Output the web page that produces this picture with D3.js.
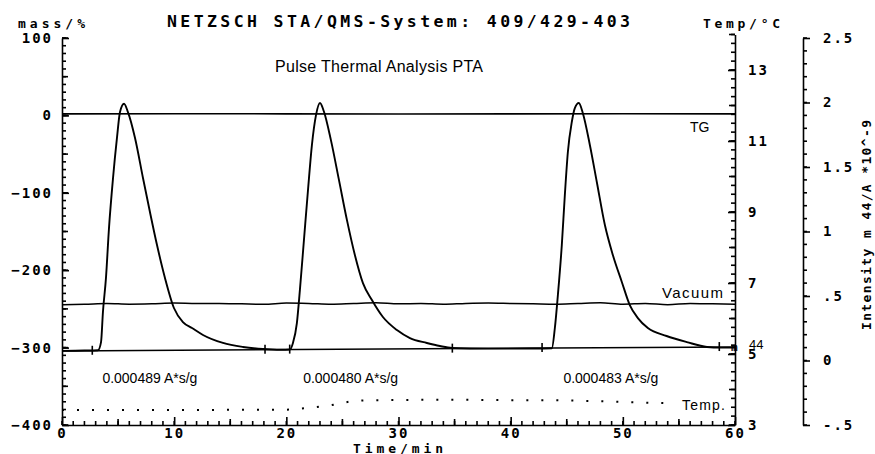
<!DOCTYPE html>
<html>
<head>
<meta charset="utf-8">
<script src="https://cdn.jsdelivr.net/npm/d3@7"></script>
<style>
  body { margin: 0; background: #fff; }
  svg { display: block; }
  .plot { font-family: "DejaVu Sans Mono", monospace; font-weight: bold; fill: #000; }
  .sans { font-family: "Liberation Sans", Arial, sans-serif; fill: #000; }
</style>
</head>
<body>
<svg id="chart" width="875" height="454"></svg>
<script>
// --- data ---
const tgTime = [0, 10, 20, 30, 40, 50, 60];
const tgMass = [2, 2.2, 2, 1.8, 2, 2.1, 2];

const vacTime = d3.range(0, 61, 2);
const vacMass = [-244.5, -244, -243, -244, -243.5, -242.5, -243, -243, -243.5, -244, -242.5,
                 -243, -244, -243, -242, -243.5, -243, -244, -243, -242.5, -243, -243.5,
                 -244, -243, -242, -244, -243, -244.5, -243, -243.5, -244];

const msTime = [0, 2, 3.21, 3.48, 3.65, 3.92, 4.19, 4.55, 4.9, 5.17, 5.53, 5.88, 6.51, 7.22, 7.84,
                8.47, 9.18, 9.98, 10.78, 11.59, 12.57, 14.35, 16.13, 17.91, 19.5,
                20.32, 20.59, 20.94, 21.21, 21.57, 21.93, 22.28, 22.64, 23.0, 23.35, 23.97, 24.69,
                25.4, 26.11, 26.83, 27.63, 28.61, 29.86, 31.02, 32.53, 33.69, 34.76, 38, 42,
                43.67, 43.94, 44.21, 44.56, 44.83, 45.1, 45.45, 45.72, 46.08, 46.43, 47.06, 47.68,
                48.4, 49.11, 49.91, 50.62, 51.34, 52.23, 53.9, 55.7, 57.5, 58.7, 60];
const msIntensity = [0.075, 0.077, 0.08, 0.143, 0.376, 0.64, 1.027, 1.415, 1.725, 1.926, 1.99, 1.926, 1.725, 1.415, 1.151,
                0.895, 0.64, 0.407, 0.298, 0.252, 0.198, 0.136, 0.105, 0.089, 0.083,
                0.085, 0.136, 0.29, 0.547, 0.934, 1.32, 1.67, 1.9, 1.996, 1.93, 1.71, 1.4,
                1.09, 0.818, 0.6, 0.469, 0.337, 0.236, 0.174, 0.136, 0.112, 0.097, 0.092, 0.093,
                0.095, 0.252, 0.508, 0.895, 1.283, 1.616, 1.849, 1.957, 1.996, 1.919, 1.671, 1.384,
                1.05, 0.818, 0.609, 0.43, 0.329, 0.252, 0.19, 0.143, 0.105, 0.1, 0.1];

const baseTime = [0, 60];
const baseIntensity = [0.074, 0.105];
const limitTimes = [2.7, 18.1, 20.3, 34.8, 42.8, 58.6];

const tempTime = [0, 4, 8, 12, 16, 20, 22, 24, 26, 28, 32, 36, 40, 44, 48, 52, 54.5];
const tempValue = [3.42, 3.42, 3.42, 3.42, 3.43, 3.43, 3.48, 3.56, 3.68, 3.7, 3.71, 3.71, 3.7, 3.7, 3.67, 3.63, 3.61];

const areaLabels = ['0.000489 A*s/g', '0.000480 A*s/g', '0.000483 A*s/g'];
const areaTimes = [3.6, 21.5, 44.7];

const massTicks = [100, 0, -100, -200, -300, -400];
const timeTicks = [0, 10, 20, 30, 40, 50, 60];
const tempTicks = [3, 5, 7, 9, 11, 13];
const intTicks = [-0.5, 0, 0.5, 1, 1.5, 2, 2.5];
const intLabels = ['-.5', '0', '.5', '1', '1.5', '2', '2.5'];

// --- scales ---
const svg = d3.select('#chart');
const x = d3.scaleLinear().domain([0, 60]).range([62, 735]);
const yMass = d3.scaleLinear().domain([-400, 100]).range([425, 38]);
const yTemp = d3.scaleLinear().domain([3, 14]).range([425, 34.5]);
const yInt = d3.scaleLinear().domain([-0.5, 2.5]).range([425, 38]);

function styleAxis(g) {
   g.selectAll('path, line').attr('stroke', '#000').attr('stroke-width', 1.6);
   g.selectAll('text').attr('class', 'plot').style('font-size', '14px')
      .style('letter-spacing', '2px').attr('fill', '#000');
}

// tick combs drawn straight from the scales (dir: into the plot)
function comb(values, scale, at, len, vertical, dir) {
   svg.append('g').selectAll('line').data(values).join('line')
      .attr('x1', d => vertical ? at : scale(d))
      .attr('x2', d => vertical ? at + dir * len : scale(d))
      .attr('y1', d => vertical ? scale(d) : at)
      .attr('y2', d => vertical ? scale(d) : at + dir * len)
      .attr('stroke', '#000').attr('stroke-width', 1.6);
}

// left: mass
svg.append('g').attr('transform', 'translate(62,0)')
   .call(d3.axisLeft(yMass).tickValues(massTicks).tickSize(-7).tickSizeOuter(0).tickPadding(9).tickFormat(d3.format('d')))
   .call(styleAxis);
comb(d3.range(-400, 101, 10), yMass, 62, 4, true, 1);
comb(d3.range(-400, 101, 50), yMass, 62, 6, true, 1);

// bottom: time
svg.append('g').attr('transform', 'translate(0,425)')
   .call(d3.axisBottom(x).tickValues(timeTicks).tickSize(-8).tickSizeOuter(0).tickPadding(3))
   .call(styleAxis);
comb(d3.range(0, 61, 1), x, 425, 4, false, -1);
comb(d3.range(5, 60, 10), x, 425, 6, false, -1);

// right: temperature
svg.append('g').attr('transform', 'translate(735,0)')
   .call(d3.axisRight(yTemp).tickValues(tempTicks).tickSize(-7).tickSizeOuter(0).tickPadding(13))
   .call(styleAxis);
comb(d3.range(3, 14.01, 0.25), yTemp, 735, 4, true, -1);
comb(d3.range(3, 14.01, 1), yTemp, 735, 6, true, -1);

// far right: intensity
svg.append('g').attr('transform', 'translate(803,0)')
   .call(d3.axisRight(yInt).tickValues(intTicks).tickSize(7).tickSizeOuter(0).tickPadding(13)
      .tickFormat((d, i) => intLabels[i]))
   .call(styleAxis);
comb(d3.range(-0.5, 2.51, 0.1), yInt, 803, 4, true, 1);

// --- curves ---
const line = (xs, ys, sy, c) => d3.line().curve(c || d3.curveLinear)
   .x((d, i) => x(xs[i])).y((d, i) => sy(ys[i]))(xs);

function curve(xs, ys, sy, extra, c) {
   const p = svg.append('path').attr('d', line(xs, ys, sy, c))
      .attr('fill', 'none').attr('stroke', '#000').attr('stroke-width', 1.6)
      .attr('stroke-linejoin', 'round');
   if (extra) extra(p);
   return p;
}

curve(tgTime, tgMass, yMass);
curve(vacTime, vacMass, yMass, p => p.attr('stroke-width', 1.5), d3.curveMonotoneX);
curve(baseTime, baseIntensity, yInt, p => p.attr('stroke-width', 1.5));
curve(msTime, msIntensity, yInt, p => p.attr('stroke-width', 1.9), d3.curveMonotoneX);
curve(tempTime, tempValue, yTemp, p => p.attr('stroke-dasharray', '2,13').attr('stroke-width', 2));

// integration limits on the baseline
const baseScale = d3.scaleLinear().domain(baseTime).range(baseIntensity);
svg.append('g').selectAll('line').data(limitTimes).join('line')
   .attr('x1', d => x(d)).attr('x2', d => x(d))
   .attr('y1', d => yInt(baseScale(d)) - 5).attr('y2', d => yInt(baseScale(d)) + 4)
   .attr('stroke', '#000').attr('stroke-width', 1.6);

// --- labels ---
svg.append('g').selectAll('text').data(areaLabels).join('text')
   .attr('class', 'sans').style('font-size', '14px')
   .attr('x', (d, i) => x(areaTimes[i])).attr('y', 383).text(d => d);

svg.append('text').attr('class', 'sans').style('font-size', '16px')
   .attr('x', 275).attr('y', 72).attr('textLength', 208).text('Pulse Thermal Analysis PTA');
svg.append('text').attr('class', 'sans').style('font-size', '14px')
   .attr('x', 690).attr('y', 132).text('TG');
svg.append('text').attr('class', 'sans').style('font-size', '15px')
   .attr('x', 662).attr('y', 298).attr('textLength', 61).text('Vacuum');
svg.append('text').attr('class', 'sans').style('font-size', '14px')
   .attr('x', 682).attr('y', 410).attr('textLength', 43).text('Temp.');
svg.append('text').attr('class', 'plot').style('font-size', '11px')
   .attr('x', 731).attr('y', 351).text('m');
svg.append('text').attr('class', 'sans').style('font-size', '13px')
   .attr('x', 749).attr('y', 349).text('44');

svg.append('text').attr('class', 'plot').style('font-size', '16.5px')
   .attr('x', 167).attr('y', 27).attr('textLength', 463)
   .text('NETZSCH  STA/QMS-System: 409/429-403');
svg.append('text').attr('class', 'plot').style('font-size', '13px')
   .attr('x', 18).attr('y', 28).attr('textLength', 67).text('mass/%');
svg.append('text').attr('class', 'plot').style('font-size', '13px')
   .attr('x', 703).attr('y', 28).attr('textLength', 77).text('Temp/°C');
svg.append('text').attr('class', 'plot').style('font-size', '13px')
   .attr('x', 353).attr('y', 453).attr('textLength', 90).text('Time/min');
svg.append('text').attr('class', 'plot').style('font-size', '13px')
   .attr('transform', 'translate(871,330) rotate(-90)')
   .attr('textLength', 210).text('Intensity m 44/A *10^-9');
</script>
</body>
</html>
